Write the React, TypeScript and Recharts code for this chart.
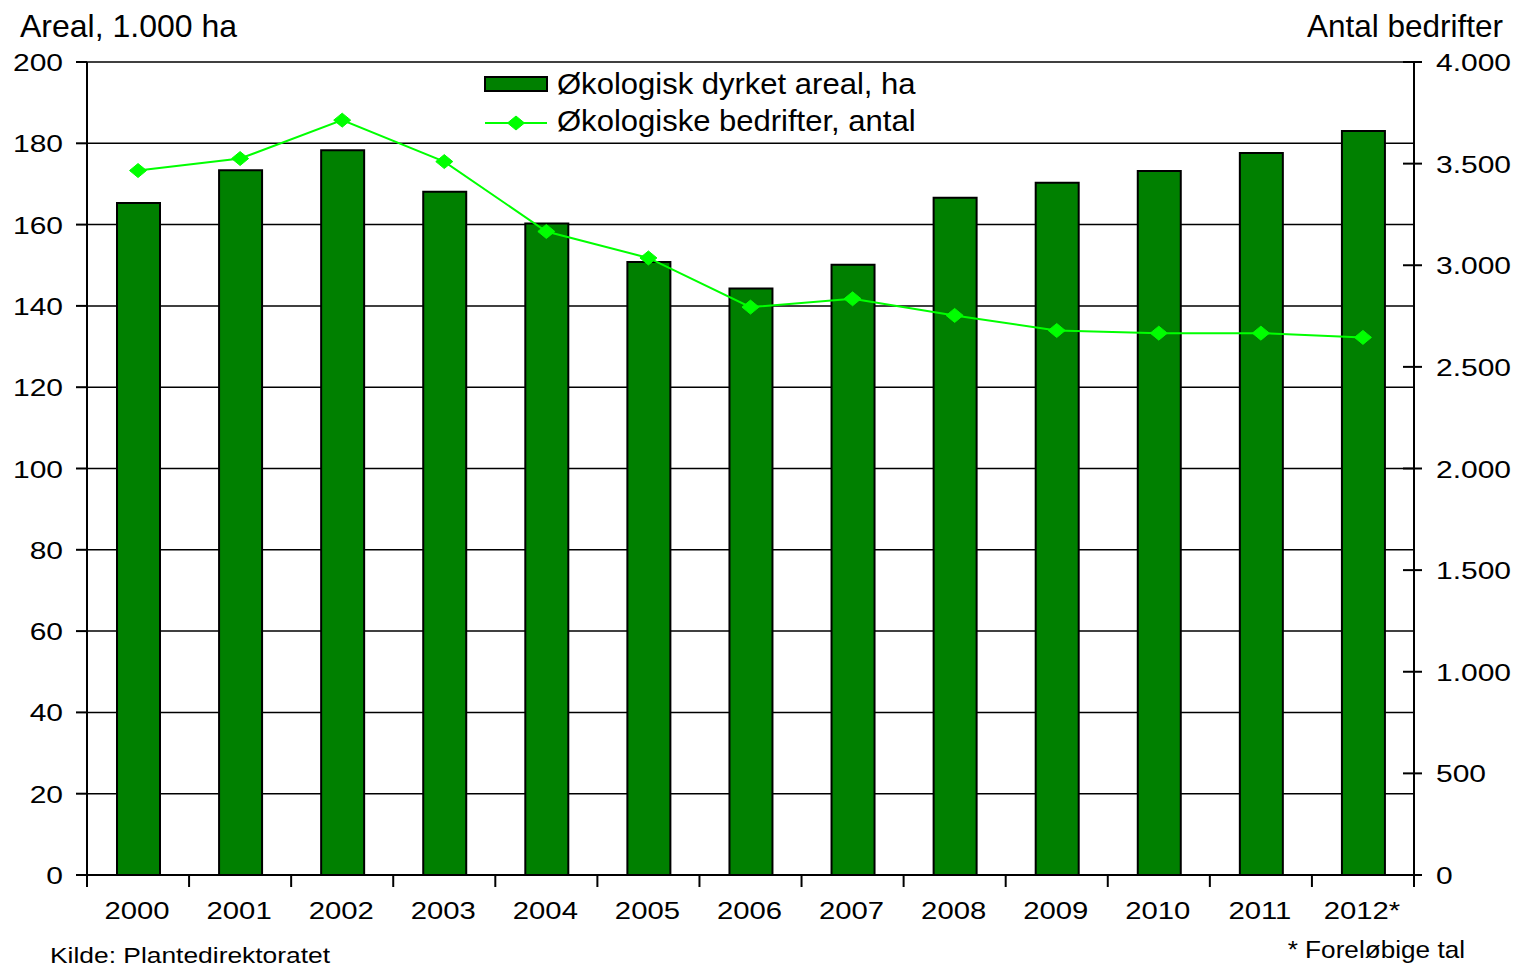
import { ComposedChart, Bar, Line, XAxis, YAxis, CartesianGrid, Legend } from 'recharts';

const years = ['2000', '2001', '2002', '2003', '2004', '2005', '2006', '2007', '2008', '2009', '2010', '2011', '2012*'];
// Økologisk dyrket areal, 1.000 ha
const areal = [165.3, 173.4, 178.3, 168.1, 160.3, 150.8, 144.3, 150.1, 166.6, 170.3, 173.2, 177.6, 183.0];
// Økologiske bedrifter, antal
const bedrifter = [3466, 3525, 3714, 3510, 3166, 3036, 2794, 2835, 2753, 2679, 2666, 2666, 2645];

const leftTicks = [0, 20, 40, 60, 80, 100, 120, 140, 160, 180, 200];
const rightTicks = [0, 500, 1000, 1500, 2000, 2500, 3000, 3500, 4000];

const FONT = '"Liberation Sans", Arial, sans-serif';
const BAR_GREEN = '#008000';
const LINE_GREEN = '#00FF00';

const WIDTH = 1517;
const HEIGHT = 969;
const LEFT_W = 87;
const RIGHT_W = 103;
const BAND = (WIDTH - LEFT_W - RIGHT_W) / years.length;

const chartData = years.map((year, i) => ({
  year,
  areal: areal[i],
  bedrifter: bedrifter[i],
}));

const fmtThousands = (v: number) => String(v).replace(/\B(?=(\d{3})+(?!\d))/g, '.');

const LeftTick = ({ x, y, payload }: any) => (
  <text
    transform={`translate(${x} ${y + 9}) scale(1.25 1)`}
    textAnchor="end"
    fontSize={24}
    fontFamily={FONT}
    fill="#000"
  >
    {payload.value}
  </text>
);

const RightTick = ({ x, y, payload }: any) => (
  <g>
    <line x1={x - 11} x2={x + 8} y1={y} y2={y} stroke="#000" strokeWidth={2} />
    <text
      transform={`translate(${x + 22} ${y + 9}) scale(1.25 1)`}
      textAnchor="start"
      fontSize={24}
      fontFamily={FONT}
      fill="#000"
    >
      {fmtThousands(payload.value)}
    </text>
  </g>
);

const XTick = ({ x, y, payload, index }: any) => (
  <g>
    <line x1={x - BAND / 2} x2={x - BAND / 2} y1={y} y2={y + 12} stroke="#000" strokeWidth={2} />
    {index === years.length - 1 && (
      <line x1={x + BAND / 2} x2={x + BAND / 2} y1={y} y2={y + 12} stroke="#000" strokeWidth={2} />
    )}
    <text
      transform={`translate(${x - 1} ${y + 44}) scale(1.22 1)`}
      textAnchor="middle"
      fontSize={24}
      fontFamily={FONT}
      fill="#000"
    >
      {payload.value}
    </text>
  </g>
);

const Diamond = ({ cx, cy }: { cx: number; cy: number }) => (
  <polygon
    points={`${cx - 8.5},${cy} ${cx},${cy - 7} ${cx + 8.5},${cy} ${cx},${cy + 7}`}
    fill={LINE_GREEN}
    stroke={LINE_GREEN}
  />
);

const renderLegend = () => (
  <svg width={460} height={80} style={{ display: 'block', fontFamily: FONT }}>
    <rect x={5} y={15} width={62} height={14} fill={BAR_GREEN} stroke="#000" strokeWidth={2} />
    <text transform="translate(77 32) scale(1.07 1)" fontSize={29} fill="#000">
      Økologisk dyrket areal, ha
    </text>
    <line x1={5} x2={67} y1={61} y2={61} stroke={LINE_GREEN} strokeWidth={2} />
    <Diamond cx={36} cy={61} />
    <text transform="translate(77 69) scale(1.07 1)" fontSize={29} fill="#000">
      Økologiske bedrifter, antal
    </text>
  </svg>
);

export default function App() {
  return (
    <div style={{ position: 'absolute', left: 0, top: 0, width: WIDTH, height: HEIGHT, background: '#fff', fontFamily: FONT }}>
      <ComposedChart
        width={WIDTH}
        height={HEIGHT}
        data={chartData}
        margin={{ top: 62, right: 0, bottom: 0, left: 0 }}
        barCategoryGap={0}
      >
        <CartesianGrid yAxisId="left" vertical={false} stroke="#000" strokeWidth={1.5} />
        <XAxis
          dataKey="year"
          height={94}
          interval={0}
          tickSize={0}
          tickMargin={0}
          tickLine={false}
          axisLine={{ stroke: '#000', strokeWidth: 2 }}
          tick={<XTick />}
        />
        <YAxis
          yAxisId="left"
          orientation="left"
          width={LEFT_W}
          domain={[0, 200]}
          ticks={leftTicks}
          interval={0}
          tickSize={11}
          tickMargin={13}
          tickLine={{ stroke: '#000', strokeWidth: 2 }}
          axisLine={{ stroke: '#000', strokeWidth: 2 }}
          tick={<LeftTick />}
        />
        <YAxis
          yAxisId="right"
          orientation="right"
          width={RIGHT_W}
          domain={[0, 4000]}
          ticks={rightTicks}
          interval={0}
          tickSize={0}
          tickMargin={0}
          tickLine={false}
          axisLine={{ stroke: '#000', strokeWidth: 2 }}
          tick={<RightTick />}
        />
        <Legend
          layout="horizontal"
          verticalAlign="middle"
          align="center"
          wrapperStyle={{ left: 480, top: 62, width: 460, height: 80 }}
          content={renderLegend}
        />
        <Bar
          yAxisId="left"
          dataKey="areal"
          barSize={43}
          fill={BAR_GREEN}
          stroke="#000"
          strokeWidth={2}
          isAnimationActive={false}
        />
        <Line
          yAxisId="right"
          dataKey="bedrifter"
          stroke={LINE_GREEN}
          strokeWidth={2}
          dot={(p: any) => <Diamond key={`d-${p.index}`} cx={p.cx} cy={p.cy} />}
          activeDot={false}
          isAnimationActive={false}
        />
      </ComposedChart>
      <svg
        width={WIDTH}
        height={HEIGHT}
        style={{ position: 'absolute', left: 0, top: 0, pointerEvents: 'none', fontFamily: FONT }}
      >
        <text x={20} y={37} fontSize={32} fill="#000">Areal, 1.000 ha</text>
        <text x={1503} y={37} fontSize={31.5} textAnchor="end" fill="#000">Antal bedrifter</text>
        <text transform="translate(50 963) scale(1.2 1)" fontSize={22} fill="#000">Kilde: Plantedirektoratet</text>
        <text transform="translate(1465 958) scale(1.09 1)" fontSize={24} textAnchor="end" fill="#000">* Foreløbige tal</text>
      </svg>
    </div>
  );
}
